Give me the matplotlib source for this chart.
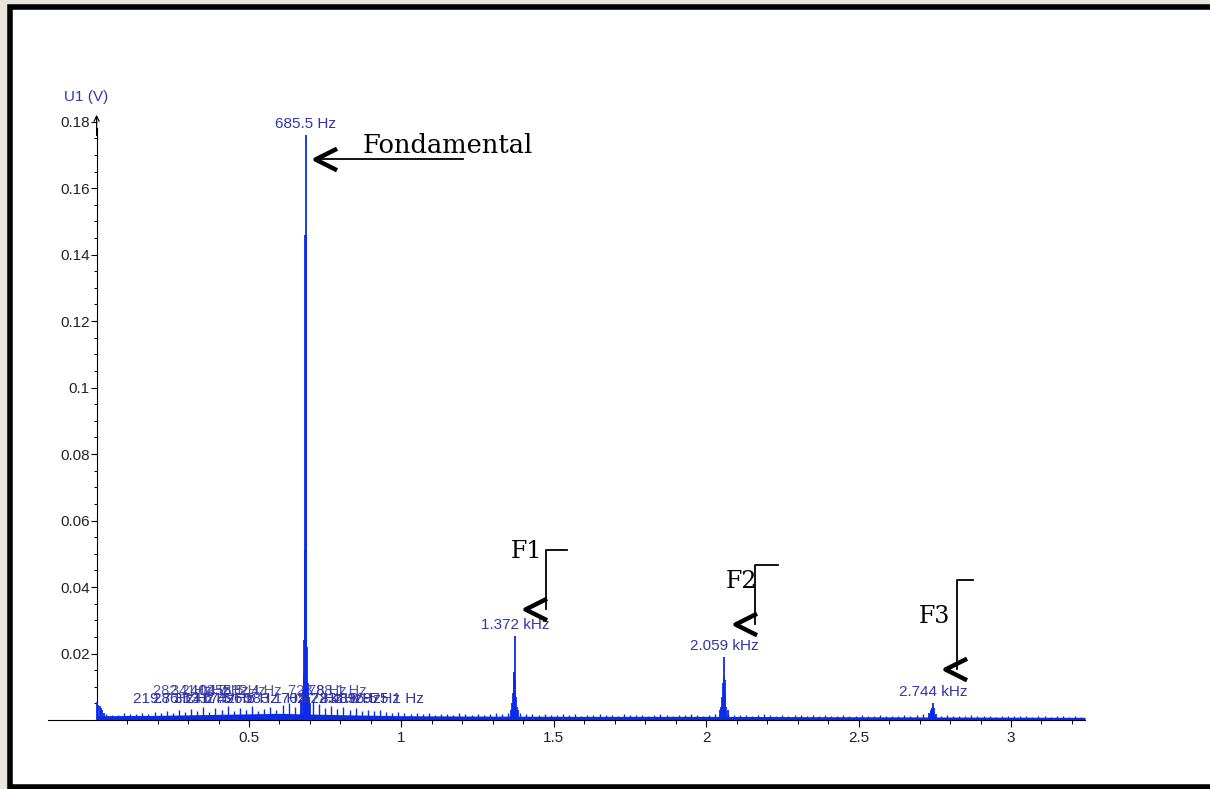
"""Spectre U1(V) : fondamental a 685.5 Hz et harmoniques F1, F2, F3."""
import matplotlib

matplotlib.use("Agg")

import matplotlib.pyplot as plt  # noqa: E402
import numpy as np  # noqa: E402
from matplotlib.patches import Rectangle  # noqa: E402
from matplotlib.path import Path  # noqa: E402
from matplotlib.ticker import FixedFormatter, FixedLocator  # noqa: E402

# --- data (kHz, V) ----------------------------------------------------------------
# noise spikes every 20 Hz, in mV
noise_start = 0.03
noise_step = 0.02
noise_mV = [
    1.8, 1.5, 1.6, 2.0, 1.7, 1.9, 2.2, 1.8, 2.4, 2.0,
    2.6, 2.1, 2.9, 2.3, 3.2, 2.6, 3.8, 2.4, 3.5, 2.9,
    4.1, 2.7, 3.6, 3.0, 4.3, 2.8, 3.4, 3.9, 3.1, 4.6,
    5.2, 4.0, 5.8, 6.0, 5.5, 4.8, 3.6, 4.2, 3.3, 3.9,
    2.9, 3.5, 2.7, 3.1, 2.6, 2.9, 2.4, 2.2, 2.5, 2.0,
    1.9, 2.2, 1.7, 2.0, 1.6, 1.9, 1.8, 1.5, 2.1, 1.7,
    1.6, 1.9, 1.5, 1.8, 2.2, 1.7, 2.0, 2.4, 2.1, 1.8,
    1.7, 1.5, 1.9, 1.6, 1.4, 1.8, 1.5, 1.7, 1.3, 1.6,
    1.5, 1.8, 1.4, 1.6, 1.3, 1.7, 1.5, 1.4, 1.6, 1.3,
    1.5, 1.7, 1.4, 1.2, 1.6, 1.4, 1.8, 1.5, 1.3, 1.6,
    1.7, 2.0, 1.8, 1.5, 1.4, 1.6, 1.3, 1.5, 1.7, 1.4,
    1.3, 1.5, 1.2, 1.6, 1.4, 1.3, 1.5, 1.2, 1.4, 1.3,
    1.2, 1.4, 1.3, 1.1, 1.5, 1.3, 1.2, 1.4, 1.1, 1.3,
    1.2, 1.4, 1.3, 1.6, 1.8, 1.5, 1.3, 1.2, 1.4, 1.1,
    1.3, 1.2, 1.4, 1.1, 1.3, 1.2, 1.0, 1.3, 1.1, 1.2,
    1.1, 1.3, 1.0, 1.2, 1.1, 1.0, 1.2, 1.1, 1.0, 1.2,
    1.0,
]
# solid noise band under the spikes
floor_f = [0.0, 0.2, 0.4, 0.6, 0.8, 1.0, 1.2, 1.6, 2.0, 2.4, 2.8, 3.243]
floor_mV = [1.3, 1.4, 1.7, 2.0, 1.6, 1.3, 1.2, 1.1, 1.1, 1.0, 0.9, 0.8]

dc_f = [0.002, 0.006, 0.010, 0.014, 0.018, 0.024]
dc_a = [0.0055, 0.0045, 0.0041, 0.0036, 0.0029, 0.0022]

fund_f = [0.672, 0.676, 0.679, 0.681, 0.683, 0.6845, 0.6855, 0.6865, 0.688, 0.690, 0.693, 0.697, 0.701]
fund_a = [0.006, 0.009, 0.014, 0.024, 0.051, 0.146, 0.176, 0.146, 0.045, 0.022, 0.011, 0.007, 0.005]

h1_f = [1.360, 1.364, 1.367, 1.369, 1.371, 1.372, 1.374, 1.376, 1.379, 1.383]
h1_a = [0.003, 0.005, 0.008, 0.014, 0.0145, 0.0253, 0.012, 0.007, 0.004, 0.003]

h2_f = [2.046, 2.050, 2.053, 2.055, 2.057, 2.059, 2.061, 2.063, 2.066, 2.070]
h2_a = [0.003, 0.004, 0.007, 0.011, 0.013, 0.019, 0.012, 0.008, 0.004, 0.003]

h3_f = [2.732, 2.736, 2.739, 2.741, 2.743, 2.744, 2.746, 2.749, 2.753]
h3_a = [0.002, 0.0025, 0.003, 0.0036, 0.0038, 0.0052, 0.0035, 0.0025, 0.0018]

peak_f = [0.6855, 1.372, 2.059, 2.744]
peak_a = [0.176, 0.0253, 0.019, 0.0052]
peak_labels = ["685.5 Hz", "1.372 kHz", "2.059 kHz", "2.744 kHz"]

# small cursor labels piled up on the noise (as in the original screen capture)
low_lbl_f = [0.2197, 0.2861, 0.3536, 0.4175, 0.4966, 0.5831, 0.7052, 0.7724, 0.8318, 0.8965, 0.9751]
low_lbl_t = ["219.7 Hz", "286.1 Hz", "353.6 Hz", "417.5 Hz", "496.6 Hz", "583.1 Hz",
             "705.2 Hz", "772.4 Hz", "831.8 Hz", "896.5 Hz", "975.1 Hz"]
up_lbl_f = [0.2822, 0.3410, 0.4027, 0.4585, 0.5124, 0.7238, 0.7881]
up_lbl_t = ["282.2 Hz", "341.0 Hz", "402.7 Hz", "458.5 Hz", "512.4 Hz", "723.8 Hz", "788.1 Hz"]

y_ticks = [0.02, 0.04, 0.06, 0.08, 0.1, 0.12, 0.14, 0.16, 0.18]
y_tick_labels = ["0.02", "0.04", "0.06", "0.08", "0.1", "0.12", "0.14", "0.16", "0.18"]
x_ticks = [0.5, 1, 1.5, 2, 2.5, 3]
x_tick_labels = ["0.5", "1", "1.5", "2", "2.5", "3"]

BLUE = "#0b2be8"
LABEL_BLUE = "#3434a8"
TICK_FONT = "Liberation Sans"
SMALL = 11
spectrum_end = floor_f[-1]

fig = plt.figure(figsize=(12.10, 7.89), dpi=100, facecolor="#e9e4dc")
fig.add_artist(Rectangle((10 / 1210, 2 / 789), 1.02, 780 / 789, transform=fig.transFigure,
                         facecolor="white", edgecolor="black", lw=4, zorder=-5))

ax = fig.add_axes([48 / 1210, 69 / 789, 1052 / 1210, 608 / 789])
ax.set_facecolor("none")
ax.set_xlim(-0.1595, 3.292)
ax.set_ylim(0, 0.1829)

# spectrum
noise_f = noise_start + noise_step * np.arange(len(noise_mV))
ax.fill_between(floor_f, 0, np.array(floor_mV) / 1000, color=BLUE, lw=0, zorder=2)
ax.vlines(noise_f, 0, np.array(noise_mV) / 1000, color=BLUE, lw=1.0, zorder=2)
for f, a in [(dc_f, dc_a), (fund_f, fund_a), (h1_f, h1_a), (h2_f, h2_a), (h3_f, h3_a)]:
    ax.vlines(f, 0, a, color=BLUE, lw=1.3, zorder=3)

for f, a, t in zip(peak_f, peak_a, peak_labels):
    ax.annotate(t, (f, a), xytext=(0, 3), textcoords="offset points", ha="center",
                va="bottom", color=LABEL_BLUE, fontsize=SMALL, family=TICK_FONT)
for f, t in zip(low_lbl_f, low_lbl_t):
    ax.text(f, 0.0063, t, ha="center", va="center", color=LABEL_BLUE, fontsize=SMALL,
            family=TICK_FONT, zorder=4)
for f, t in zip(up_lbl_f, up_lbl_t):
    ax.text(f, 0.0086, t, ha="center", va="center", color=LABEL_BLUE, fontsize=SMALL - 0.5,
            family=TICK_FONT, zorder=4, alpha=0.85)

# axes look of the acquisition software
for s in ["top", "right"]:
    ax.spines[s].set_visible(False)
ax.spines["left"].set_position(("data", 0))
ax.spines["left"].set_bounds(0, 0.178)
ax.spines["bottom"].set_bounds(-0.1595, spectrum_end)
ax.annotate("", xy=(0, 0.1829), xytext=(0, 0.175),
            arrowprops=dict(arrowstyle="->", lw=0.9, color="black", mutation_scale=9),
            annotation_clip=False)

ax.yaxis.set_major_locator(FixedLocator(y_ticks))
ax.yaxis.set_major_formatter(FixedFormatter(y_tick_labels))
ax.yaxis.set_minor_locator(FixedLocator(np.arange(0.005, 0.18, 0.005)))
ax.xaxis.set_major_locator(FixedLocator(x_ticks))
ax.xaxis.set_major_formatter(FixedFormatter(x_tick_labels))
ax.xaxis.set_minor_locator(FixedLocator(np.arange(0.1, 3.25, 0.1)))
ax.tick_params(axis="y", which="major", length=4, width=0.8, pad=1, labelsize=SMALL)
ax.tick_params(axis="y", which="minor", length=2, width=0.7)
ax.tick_params(axis="x", which="major", length=5, width=0.8, pad=3, labelsize=SMALL)
ax.tick_params(axis="x", which="minor", length=3, width=0.7)
for lab in ax.get_xticklabels() + ax.get_yticklabels():
    lab.set_family(TICK_FONT)
    lab.set_color("#222222")

ax.text(-0.035, 0.1875, "U1 (V)", ha="center", va="center", color=LABEL_BLUE,
        fontsize=SMALL, family=TICK_FONT, clip_on=False)

# hand-drawn annotations
chevron = Path([(1, 0.5), (0, 0), (1, -0.5)], [Path.MOVETO, Path.LINETO, Path.LINETO])


def mark_tip(x, y):
    ax.plot([x], [y], marker=chevron, markersize=31, markerfacecolor="none",
            markeredgecolor="black", markeredgewidth=3.2, clip_on=False, zorder=6)


SERIF = "DejaVu Serif"
ax.plot([0.7166, 1.202], [0.1687, 0.1687], color="black", lw=1.3, zorder=6)
mark_tip(0.7166, 0.1687)
ax.text(0.874, 0.1705, "Fondamental", family=SERIF, fontsize=18.5, va="baseline", zorder=6)

for tx, ty, vx, vtop, hx, tipx, tipy, label in [
    (1.461, 0.0487, 1.473, 0.0511, 1.543, 1.406, 0.0334, "F1"),
    (2.167, 0.0397, 2.160, 0.0466, 2.235, 2.094, 0.0289, "F2"),
    (2.800, 0.0292, 2.823, 0.0421, 2.875, 2.783, 0.0153, "F3"),
]:
    ax.plot([hx, vx, vx], [vtop, vtop, tipy], color="black", lw=1.3, zorder=6)
    mark_tip(tipx, tipy)
    ax.text(tx, ty, label, family=SERIF, fontsize=17, ha="right", va="baseline", zorder=6)

fig.savefig("out.png", dpi=100, facecolor=fig.get_facecolor())
